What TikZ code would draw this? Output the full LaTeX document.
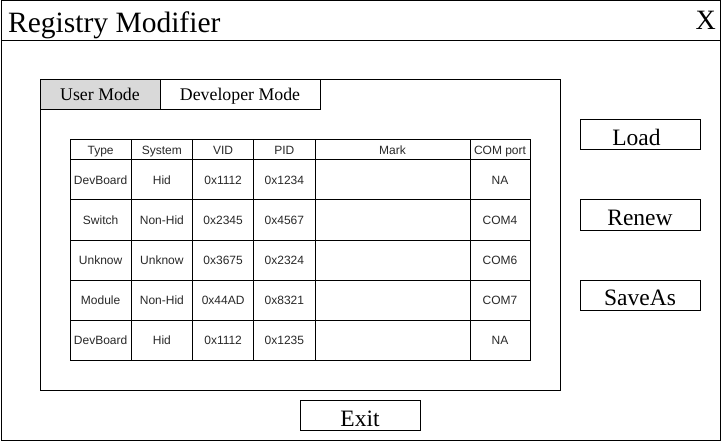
\documentclass[tikz,border=0pt]{standalone}
\usepackage{fontspec}
\setmainfont{Liberation Serif}
\newfontfamily\tabfont{Liberation Sans}
\definecolor{tabgray}{RGB}{217,217,217}
\definecolor{celltext}{RGB}{40,40,40}
\begin{document}
\begin{tikzpicture}[x=1pt,y=-1pt,
  box/.style={draw=black, line width=1pt, inner sep=0pt, outer sep=0pt, rectangle},
  btn/.style={box, minimum width=120pt, minimum height=30pt},
  btntext/.style={inner sep=0pt, font=\fontsize{23.5}{25}\selectfont, text height=15.5pt, text depth=0pt},
  tabtext/.style={inner sep=0pt, font=\fontsize{17.8}{19}\selectfont, text height=11.8pt, text depth=0pt},
  cell/.style={draw=black, line width=1pt, inner sep=0pt, outer sep=0pt, rectangle,
    font=\tabfont\fontsize{12}{13}\selectfont, text=celltext, text height=8.6pt, text depth=0pt}]
\useasboundingbox (0,0) rectangle (726,441);
% outer window
\node[box, minimum width=719pt, minimum height=439pt, anchor=north west] (frame) at (1,1) {};
\node[box, minimum width=719pt, minimum height=39.5pt, anchor=north west] (titlebar) at (1,1) {};
\node[inner sep=0pt, anchor=base west, font=\fontsize{29.5}{31}\selectfont] (title) at (8,32.3) {Registry Modifier};
\node[inner sep=0pt, anchor=base east, font=\fontsize{28}{30}\selectfont] (close) at (716,29.5) {X};
% panel
\node[box, minimum width=520pt, minimum height=310pt, anchor=north west] (panel) at (40,80) {};
\node[box, fill=tabgray, minimum width=120pt, minimum height=30pt, anchor=north west] (usertab) at (40,80) {};
\node[tabtext] (usertabtxt) at (usertab.center) {User Mode};
\node[box, minimum width=160pt, minimum height=30pt, anchor=north west] (devtab) at (160,80) {};
\node[tabtext] (devtabtxt) at (devtab.center) {Developer Mode};
% buttons
\node[btn] (load) at (640,135) {};
\node[btntext] (loadtxt) at (636.5,138) {Load};
\node[btn] (renew) at (640,215) {};
\node[btntext] (renewtxt) at (640,218) {Renew};
\node[btn] (saveas) at (640,295) {};
\node[btntext] (saveastxt) at (640,298) {SaveAs};
\node[btn] (exit) at (360,415) {};
\node[btntext] (exittxt) at (360,418.5) {Exit};
% table
\foreach \r/\ya/\yb/\ta/\tb/\tc/\td/\te/\tf in {
  0/140/160/Type/System/VID/PID/Mark/COM port,
  1/160/200/DevBoard/Hid/0x1112/0x1234//NA,
  2/200/240/Switch/Non-Hid/0x2345/0x4567//COM4,
  3/240/280/Unknow/Unknow/0x3675/0x2324//COM6,
  4/280/320/Module/Non-Hid/0x44AD/0x8321//COM7,
  5/320/360/DevBoard/Hid/0x1112/0x1235//NA}{
  \foreach \c/\xa/\xb/\t in {1/70/131.25/\ta, 2/131.25/192.5/\tb, 3/192.5/253.75/\tc,
      4/253.75/315/\td, 5/315/470/\te, 6/470/530/\tf}{
    \node[cell, minimum width={(\xb-\xa)*1pt}, minimum height={(\yb-\ya)*1pt}]
      (cell-\r-\c) at ({(\xa+\xb)/2},{(\ya+\yb)/2}) {\t};
  }
}
\end{tikzpicture}
\end{document}
